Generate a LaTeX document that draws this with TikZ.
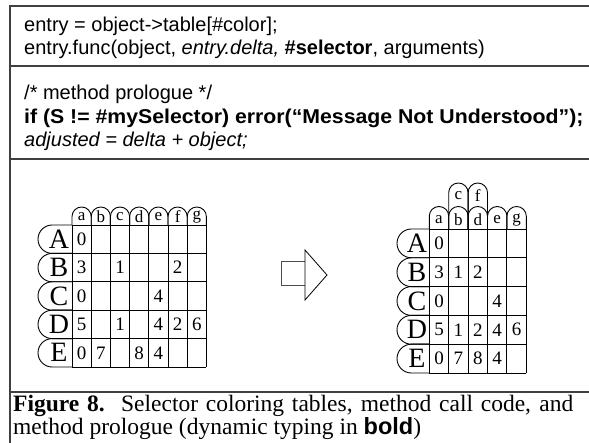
\documentclass[tikz,border=0pt]{standalone}
\usepackage{graphicx}
\usepackage{fontspec}
\setmainfont{Liberation Serif}
\setsansfont{Liberation Sans}

\tikzset{
    code/.style={anchor=base west, inner sep=0pt, font=\sffamily\fontsize{20}{22}\selectfont},
    capline/.style={anchor=base west, inner sep=0pt, font=\fontsize{23.5}{24}\selectfont},
    cell/.style={inner sep=0pt, font=\fontsize{19}{19}\selectfont},
    rowlab/.style={inner sep=0pt, font=\fontsize{28}{28}\selectfont},
    collab/.style={inner sep=0pt, font=\fontsize{17}{17}\selectfont},
    frame/.style={line width=1.6pt, black!75},
    grid/.style={line width=0.9pt}
}

\begin{document}
\begin{tikzpicture}[x=1pt, y=-1pt]
    \useasboundingbox (0,0) rectangle (589,443);
    % frame and separators
    \draw[frame] (10,443) -- (10,6) -- (589,6);
    \foreach \y in {66,159,392}
        \draw[frame] (10,\y) -- (589,\y);

    % code
    \node[code] (call1) at (24,32) {entry = object->table[\#color];};
    \node[code] (call2) at (24,55) {entry.func(object, \textit{entry.delta,} \textbf{\#selector}, arguments)};
    \node[code] (pro1) at (24,100) {/* method prologue */};
    \node[code] (pro2) at (24,124) {\scalebox{1.063}[1]{\textbf{if (S != \#mySelector) error(“Message Not Understood”);}}};
    \node[code] (pro3) at (24,147) {\textit{adjusted = delta + object;}};

    % left table
    \pgfmathsetmacro{\lx}{72}
    \pgfmathsetmacro{\ly}{225}
    \pgfmathsetmacro{\cw}{19.2}
    \pgfmathsetmacro{\rh}{28.4}
    \pgfmathsetmacro{\rr}{\rh/2}
    \foreach \lab [count=\i from 0] in {a,b,c,d,e,f,g} {
        \draw[grid] ({\lx+\i*\cw},\ly) -- ++(0,-8.4) arc[start angle=180, end angle=0, radius=9.6pt] -- ++(0,8.4);
        \node[collab] (lcol-\lab) at ({\lx+(\i+0.5)*\cw},{\ly-8}) {\lab};
    }
    \foreach \lab [count=\i from 0] in {A,B,C,D,E} {
        \draw[grid] (\lx,{\ly+\i*\rh}) -- ++(-19.8,0) arc[start angle=90, end angle=270, radius=\rr pt] -- (\lx,{\ly+(\i+1)*\rh});
        \node[rowlab] (lrow-\lab) at (59,{\ly+(\i+0.5)*\rh}) {\lab};
    }
    \foreach \i in {0,...,7}
        \draw[grid] ({\lx+\i*\cw},\ly) -- ++(0,{5*\rh});
    \foreach \i in {0,...,5}
        \draw[grid] (\lx,{\ly+\i*\rh}) -- ++({7*\cw},0);
    \foreach \r/\c/\v in {0/0/0, 1/0/3, 1/2/1, 1/5/2, 2/0/0, 2/4/4,
                          3/0/5, 3/2/1, 3/4/4, 3/5/2, 3/6/6,
                          4/0/0, 4/1/7, 4/3/8, 4/4/4}
        \node[cell] (l-\r-\c) at ({\lx+(\c+0.5)*\cw},{\ly+(\r+0.5)*\rh}) {\v};

    % arrow
    \draw[line width=1pt, black!70] (305,262) -- (281,262) -- (281,286) -- (305,286);
    \draw[line width=0.8pt] (305,250) -- (327,275) -- (305,300) -- cycle;

    % right table
    \pgfmathsetmacro{\rx}{429.3}
    \pgfmathsetmacro{\ry}{229}
    \pgfmathsetmacro{\dw}{19.4}
    \pgfmathsetmacro{\sh}{28.8}
    \pgfmathsetmacro{\sr}{\sh/2}
    \foreach \lab/\i in {c/1, f/2} {
        \draw[grid] ({\rx+\i*\dw},\ry) -- ++(0,-36.3) arc[start angle=180, end angle=0, radius=9.7pt] -- ++(0,36.3);
        \node[collab] (rtop-\lab) at ({\rx+(\i+0.5)*\dw},{\ry-33}) {\lab};
    }
    \foreach \lab [count=\i from 0] in {a,b,d,e,g} {
        \draw[grid] ({\rx+\i*\dw},\ry) -- ++(0,-12.8) arc[start angle=180, end angle=0, radius=9.7pt] -- ++(0,12.8);
        \node[collab] (rcol-\lab) at ({\rx+(\i+0.5)*\dw},{\ry-9}) {\lab};
    }
    \foreach \lab [count=\i from 0] in {A,B,C,D,E} {
        \draw[grid] (\rx,{\ry+\i*\sh}) -- ++(-17.9,0) arc[start angle=90, end angle=270, radius=\sr pt] -- (\rx,{\ry+(\i+1)*\sh});
        \node[rowlab] (rrow-\lab) at (417,{\ry+(\i+0.5)*\sh}) {\lab};
    }
    \foreach \i in {0,...,5}
        \draw[grid] ({\rx+\i*\dw},\ry) -- ++(0,{5*\sh});
    \foreach \i in {0,...,5}
        \draw[grid] (\rx,{\ry+\i*\sh}) -- ++({5*\dw},0);
    \foreach \r/\c/\v in {0/0/0, 1/0/3, 1/1/1, 1/2/2, 2/0/0, 2/3/4,
                          3/0/5, 3/1/1, 3/2/2, 3/3/4, 3/4/6,
                          4/0/0, 4/1/7, 4/2/8, 4/3/4}
        \node[cell] (r-\r-\c) at ({\rx+(\c+0.5)*\dw},{\ry+(\r+0.5)*\sh}) {\v};

    % caption
    \node[capline] (cap1) at (13,412) {\makebox[560pt][s]{\textbf{Figure 8.}\hspace{0.7em}Selector coloring tables, method call code, and}};
    \node[capline] (cap2) at (13,435) {method prologue (dynamic typing in \textsf{\textbf{bold}})};
\end{tikzpicture}
\end{document}
